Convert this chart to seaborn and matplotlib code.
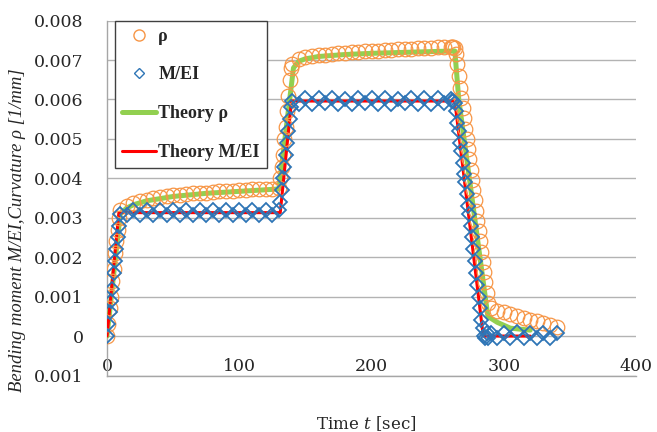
import matplotlib
matplotlib.use("Agg")
import matplotlib.pyplot as plt
from matplotlib.lines import Line2D
import seaborn as sns

# measured data (time in sec)
t_meas = [0, 1, 2, 3, 4, 5, 6, 7, 8, 9, 10,
          15, 20, 25, 30, 35, 40, 45, 50, 55, 60, 65, 70, 75, 80, 85, 90, 95, 100,
          105, 110, 115, 120, 125, 130,
          131, 132, 133, 134, 135, 136, 137, 138, 139, 140,
          145, 150, 155, 160, 165, 170, 175, 180, 185, 190, 195, 200, 205, 210,
          215, 220, 225, 230, 235, 240, 245, 250, 255, 260,
          261, 262, 263, 264, 265, 266, 267, 268, 269, 270, 271, 272, 273, 274,
          275, 276, 277, 278, 279, 280, 281, 282, 283, 284, 285, 286, 287, 288,
          290, 295, 300, 305, 310, 315, 320, 325, 330, 335, 340]

rho_meas = [0.0, 0.0003, 0.0007, 0.0010, 0.0014, 0.0017, 0.0021, 0.0024, 0.0027, 0.0030, 0.0032,
            0.00330, 0.00337, 0.00342, 0.00346, 0.00350, 0.00353, 0.00355, 0.00357, 0.00359,
            0.00361, 0.00362, 0.00363, 0.00364, 0.00366, 0.00367, 0.00368, 0.00369, 0.00370,
            0.00371, 0.00372, 0.00372, 0.00373, 0.00374, 0.00375,
            0.0040, 0.0043, 0.0046, 0.0050, 0.0053, 0.0057, 0.0061, 0.0065, 0.0068, 0.0069,
            0.00702, 0.00707, 0.00710, 0.00712, 0.00714, 0.00716, 0.00717, 0.00718, 0.00720,
            0.00721, 0.00722, 0.00723, 0.00724, 0.00725, 0.00726, 0.00727, 0.00728, 0.00729,
            0.00730, 0.00730, 0.00731, 0.00732, 0.00733, 0.00734,
            0.00734, 0.00733, 0.00730, 0.00715, 0.00690, 0.00660, 0.00630, 0.00604, 0.00578,
            0.00552, 0.00526, 0.00500, 0.00474, 0.00448, 0.00422, 0.00396, 0.00370, 0.00344,
            0.00318, 0.00292, 0.00266, 0.00240, 0.00214, 0.00188, 0.00162, 0.00136, 0.00110,
            0.00085,
            0.00070, 0.00064, 0.00060, 0.00056, 0.00052, 0.00047, 0.00042, 0.00037, 0.00032,
            0.00027, 0.00022]

m_meas = [0.0, 0.0003, 0.0006, 0.0009, 0.0012, 0.0016, 0.0019, 0.0022, 0.0025, 0.0028, 0.0031,
          0.00306, 0.00320, 0.00306, 0.00320, 0.00307, 0.00319, 0.00306, 0.00320, 0.00306,
          0.00320, 0.00307, 0.00320, 0.00306, 0.00319, 0.00306, 0.00320, 0.00307, 0.00320,
          0.00306, 0.00320, 0.00306, 0.00319, 0.00307, 0.00320,
          0.0034, 0.0037, 0.0040, 0.0043, 0.0046, 0.0049, 0.0052, 0.0055, 0.0058, 0.00595,
          0.00589, 0.00603, 0.00589, 0.00603, 0.00590, 0.00603, 0.00589, 0.00602, 0.00589,
          0.00603, 0.00590, 0.00603, 0.00589, 0.00603, 0.00589, 0.00602, 0.00590, 0.00603,
          0.00589, 0.00603, 0.00589, 0.00603, 0.00590, 0.00602,
          0.00596, 0.00596, 0.00590, 0.00570, 0.00540, 0.00520, 0.00490, 0.00470, 0.00440,
          0.00410, 0.00390, 0.00360, 0.00330, 0.00310, 0.00280, 0.00250, 0.00220, 0.00190,
          0.00160, 0.00130, 0.00100, 0.00070, 0.00040, 0.00020, 0.00000, -0.00005, 0.00008,
          -0.00005,
          0.00009, -0.00004, 0.00009, -0.00004, 0.00010, -0.00004, 0.00009, -0.00004, 0.00009,
          -0.00004, 0.00008]

# theory curves
t_theory_rho = [0, 10, 15, 20, 30, 50, 75, 100, 130, 141, 145, 150, 160, 180, 200, 230, 263,
                266, 288, 295, 305, 320]
rho_theory = [0.0, 0.0031, 0.00325, 0.00333, 0.00343, 0.00354, 0.00362, 0.00367, 0.00373,
              0.0068, 0.00697, 0.00703, 0.00709, 0.00714, 0.00717, 0.00720, 0.00723,
              0.0060, 0.0005, 0.00035, 0.0002, 0.00015]

t_theory_m = [0, 9, 131, 139.5, 263, 284.5, 320]
m_theory = [0.0, 0.00313, 0.00313, 0.00596, 0.00596, 0.0, 0.0]

y_ticks = [-0.001, 0, 0.001, 0.002, 0.003, 0.004, 0.005, 0.006, 0.007, 0.008]
y_tick_labels = ["0.001", "0", "0.001", "0.002", "0.003", "0.004", "0.005", "0.006", "0.007", "0.008"]
x_ticks = [0, 100, 200, 300, 400]

sns.set_style("white")
plt.rcParams["mathtext.fontset"] = "dejavuserif"

fig, ax = plt.subplots(figsize=(6.57, 4.32), dpi=100)
fig.subplots_adjust(left=107 / 657, right=636 / 657, bottom=(432 - 375.5) / 432, top=(432 - 20.6) / 432)

c_rho, c_m, c_trho, c_tm = "#F79646", "#2E75B6", "#92D050", "#FF0000"

sns.lineplot(x=t_theory_rho, y=rho_theory, color=c_trho, lw=3.6, estimator=None, sort=False, ax=ax, zorder=3)
sns.lineplot(x=t_theory_m, y=m_theory, color=c_tm, lw=2.2, estimator=None, sort=False, ax=ax, zorder=3)
sns.lineplot(x=t_meas, y=rho_meas, marker="o", linestyle="none", markersize=10.5,
             markerfacecolor="none", markeredgecolor=c_rho, markeredgewidth=0.9,
             estimator=None, sort=False, ax=ax, zorder=4)
sns.lineplot(x=t_meas, y=m_meas, marker="D", linestyle="none", markersize=7,
             markerfacecolor="none", markeredgecolor=c_m, markeredgewidth=1.3,
             estimator=None, sort=False, ax=ax, zorder=5)

ax.set_xlim(0, 400)
ax.set_ylim(-0.001, 0.008)
ax.set_yticks(y_ticks)
ax.set_yticklabels(y_tick_labels)
ax.set_xticks(x_ticks)
ax.yaxis.grid(True, color="#B3B3B3", lw=1)
ax.xaxis.grid(False)
ax.set_axisbelow(True)
for side in ["top", "right"]:
    ax.spines[side].set_visible(False)
for side in ["left", "bottom"]:
    ax.spines[side].set_color("#A6A6A6")
    ax.spines[side].set_linewidth(1)

ax.tick_params(axis="y", length=0, pad=17, labelsize=12.5)
ax.tick_params(axis="x", length=0, pad=-12.6, labelsize=12.5)
for lab in ax.get_xticklabels() + ax.get_yticklabels():
    lab.set_fontfamily("DejaVu Serif")

ax.set_xlabel(r"Time $\mathit{t}$ [sec]", fontsize=12, family="DejaVu Serif")
ax.xaxis.set_label_coords(0.49, -0.11)
ax.set_ylabel("Bending moment M/EI,Curvature ρ [1/mm]", fontsize=13.4, family="Liberation Serif",
              style="italic")
ax.yaxis.set_label_coords(-0.153, 0.41)

handles = [
    Line2D([], [], marker="o", ls="none", markersize=8, markerfacecolor="none",
           markeredgecolor=c_rho, markeredgewidth=1.0),
    Line2D([], [], marker="D", ls="none", markersize=5.5, markerfacecolor="none",
           markeredgecolor=c_m, markeredgewidth=1.0),
    Line2D([], [], color=c_trho, lw=3.6),
    Line2D([], [], color=c_tm, lw=2.2),
]
labels = ["ρ", "M/EI", "Theory ρ", "Theory M/EI"]
leg = ax.legend(handles, labels, loc="upper left", bbox_to_anchor=(0.015, 1.0), borderaxespad=0,
                prop={"family": "Liberation Serif", "weight": "bold", "size": 13},
                handlelength=1.85, handletextpad=0.15, labelspacing=1.2, borderpad=0.4,
                fancybox=False, framealpha=1)
leg.get_frame().set_edgecolor("#404040")
leg.get_frame().set_linewidth(1)
leg.set_zorder(10)

fig.savefig("out.png", dpi=100)
